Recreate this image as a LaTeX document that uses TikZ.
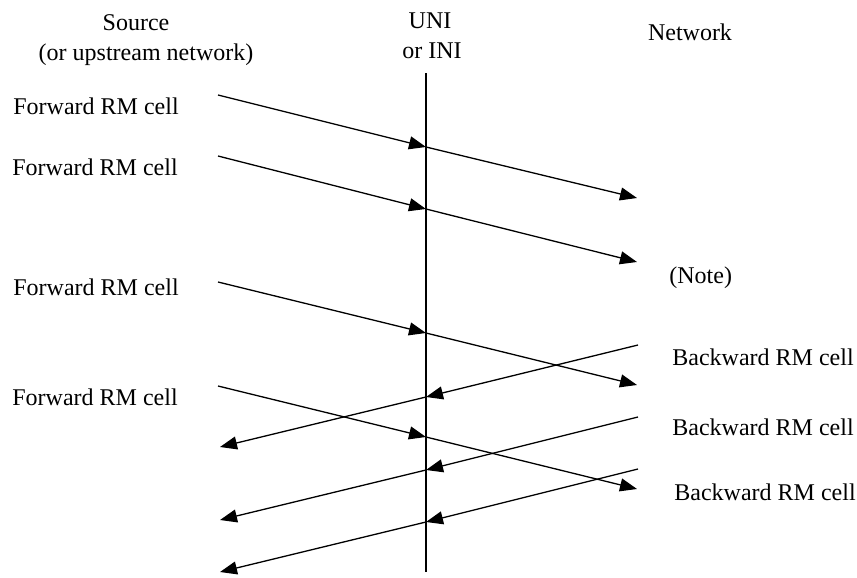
\documentclass[tikz,border=0pt]{standalone}
\usepackage{fontspec}
\setmainfont{Liberation Serif}
\usetikzlibrary{arrows.meta}
\begin{document}
\begin{tikzpicture}[x=0.5pt,y=-0.5pt,
  lbl/.style={anchor=base west,inner sep=0pt,font=\fontsize{12}{14}\selectfont},
  hdr/.style={anchor=base,inner sep=0pt,font=\fontsize{12}{14}\selectfont},
  msg/.style={line width=0.65pt,-{Triangle[length=8.5pt,width=6.5pt]}},
  axis/.style={line width=0.65pt}]
\useasboundingbox (0,0) rectangle (857,578);
% headers
\node[hdr] (src) at (136,31) {Source};
\node[hdr] (src2) at (146,61) {(or upstream network)};
\node[hdr] (uni) at (430,28) {UNI};
\node[hdr] (ini) at (432,58) {or INI};
\node[hdr] (net) at (690,40) {Network};
% interface line
\coordinate (top) at (426,73);
\coordinate (bot) at (426,572);
\draw[axis] (top) -- (bot);
% forward RM cells
\coordinate (fs1) at (218,95);  \coordinate (fm1) at (426,147); \coordinate (fe1) at (637,198);
\coordinate (fs2) at (218,156); \coordinate (fm2) at (426,209); \coordinate (fe2) at (637,262);
\coordinate (fs3) at (218,282); \coordinate (fm3) at (426,333); \coordinate (fe3) at (637,385);
\coordinate (fs4) at (218,386); \coordinate (fm4) at (426,437); \coordinate (fe4) at (637,489);
\foreach \i in {1,2,3,4}{
  \draw[msg] (fs\i) -- (fm\i);
  \draw[msg] (fm\i) -- (fe\i);
}
% backward RM cells
\coordinate (bs1) at (638,345); \coordinate (bm1) at (426,397); \coordinate (be1) at (220,447);
\coordinate (bs2) at (638,417); \coordinate (bm2) at (426,470); \coordinate (be2) at (220,520);
\coordinate (bs3) at (638,469); \coordinate (bm3) at (426,522); \coordinate (be3) at (220,572);
\foreach \i in {1,2,3}{
  \draw[msg] (bs\i) -- (bm\i);
  \draw[msg] (bm\i) -- (be\i);
}
% labels
\node[lbl] (f1) at (13,114) {Forward RM cell};
\node[lbl] (f2) at (12,175) {Forward RM cell};
\node[lbl] (f3) at (13,295) {Forward RM cell};
\node[lbl] (f4) at (12,405) {Forward RM cell};
\node[lbl] (note) at (669,283) {(Note)};
\node[lbl] (b1) at (672,365) {Backward RM cell};
\node[lbl] (b2) at (672,435) {Backward RM cell};
\node[lbl] (b3) at (674,500) {Backward RM cell};
\end{tikzpicture}
\end{document}
